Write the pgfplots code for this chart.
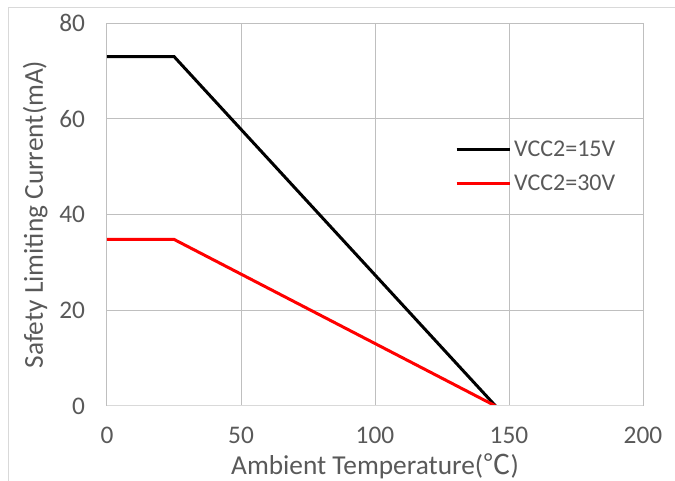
\documentclass[border=0pt]{standalone}
\usepackage{fontspec}
\setmainfont{Carlito}
\newfontfamily\cjk{Noto Sans CJK SC}
\usepackage{pgfplots}
\pgfplotsset{compat=1.18}
\definecolor{txt}{HTML}{595959}
\definecolor{grid}{HTML}{D9D9D9}
\definecolor{axl}{HTML}{BFBFBF}
\begin{document}
\begin{tikzpicture}
\useasboundingbox (0pt,0pt) rectangle (506.25pt,360.75pt);
\draw[grid,line width=0.75pt] (6pt,0pt) -- (6pt,354.75pt) -- (506.25pt,354.75pt);
\begin{axis}[
  at={(80.25pt,56.25pt)}, anchor=south west,
  scale only axis, width=402pt, height=287.25pt,
  xmin=0, xmax=200, ymin=0, ymax=80,
  xtick={0,50,...,200}, ytick={0,20,...,80},
  grid=major, major grid style={grid,line width=0.75pt},
  axis line style={draw=none},
  tick style={draw=none},
  /pgf/number format/assume math mode=true,
  tick label style={font=\fontsize{19}{22}\selectfont, text=txt},
  xticklabel style={yshift=-12pt},
  yticklabel style={xshift=-13pt},
  xlabel={Ambient Temperature({\cjk ℃})},
  ylabel={Safety Limiting Current(mA)},
  label style={font=\fontsize{20.5}{24}\selectfont, text=txt},
  xlabel style={yshift=-1pt},
  ylabel style={yshift=2pt},
  legend style={at={(0.649,0.625)}, anchor=west, draw=none, fill=none,
    font=\fontsize{18}{21}\selectfont, text=txt, inner sep=0pt,
    row sep=8.5pt, cells={anchor=west}},
  legend image code/.code={\draw[#1] (0pt,0pt) -- (40pt,0pt);},
  legend cell align=left,
]
\addplot[black, line width=2.25pt] coordinates {(0,73) (25,73) (145,0)};
\addlegendentry{VCC2=15V}
\addplot[red, line width=2.25pt] coordinates {(0,34.8) (25,34.8) (145,0)};
\addlegendentry{VCC2=30V}
\draw[axl,line width=0.75pt] (rel axis cs:0,0) -- (rel axis cs:0,1);
\draw[grid,line width=0.75pt] (rel axis cs:0,0) -- (rel axis cs:1,0);
\end{axis}
\end{tikzpicture}
\end{document}
